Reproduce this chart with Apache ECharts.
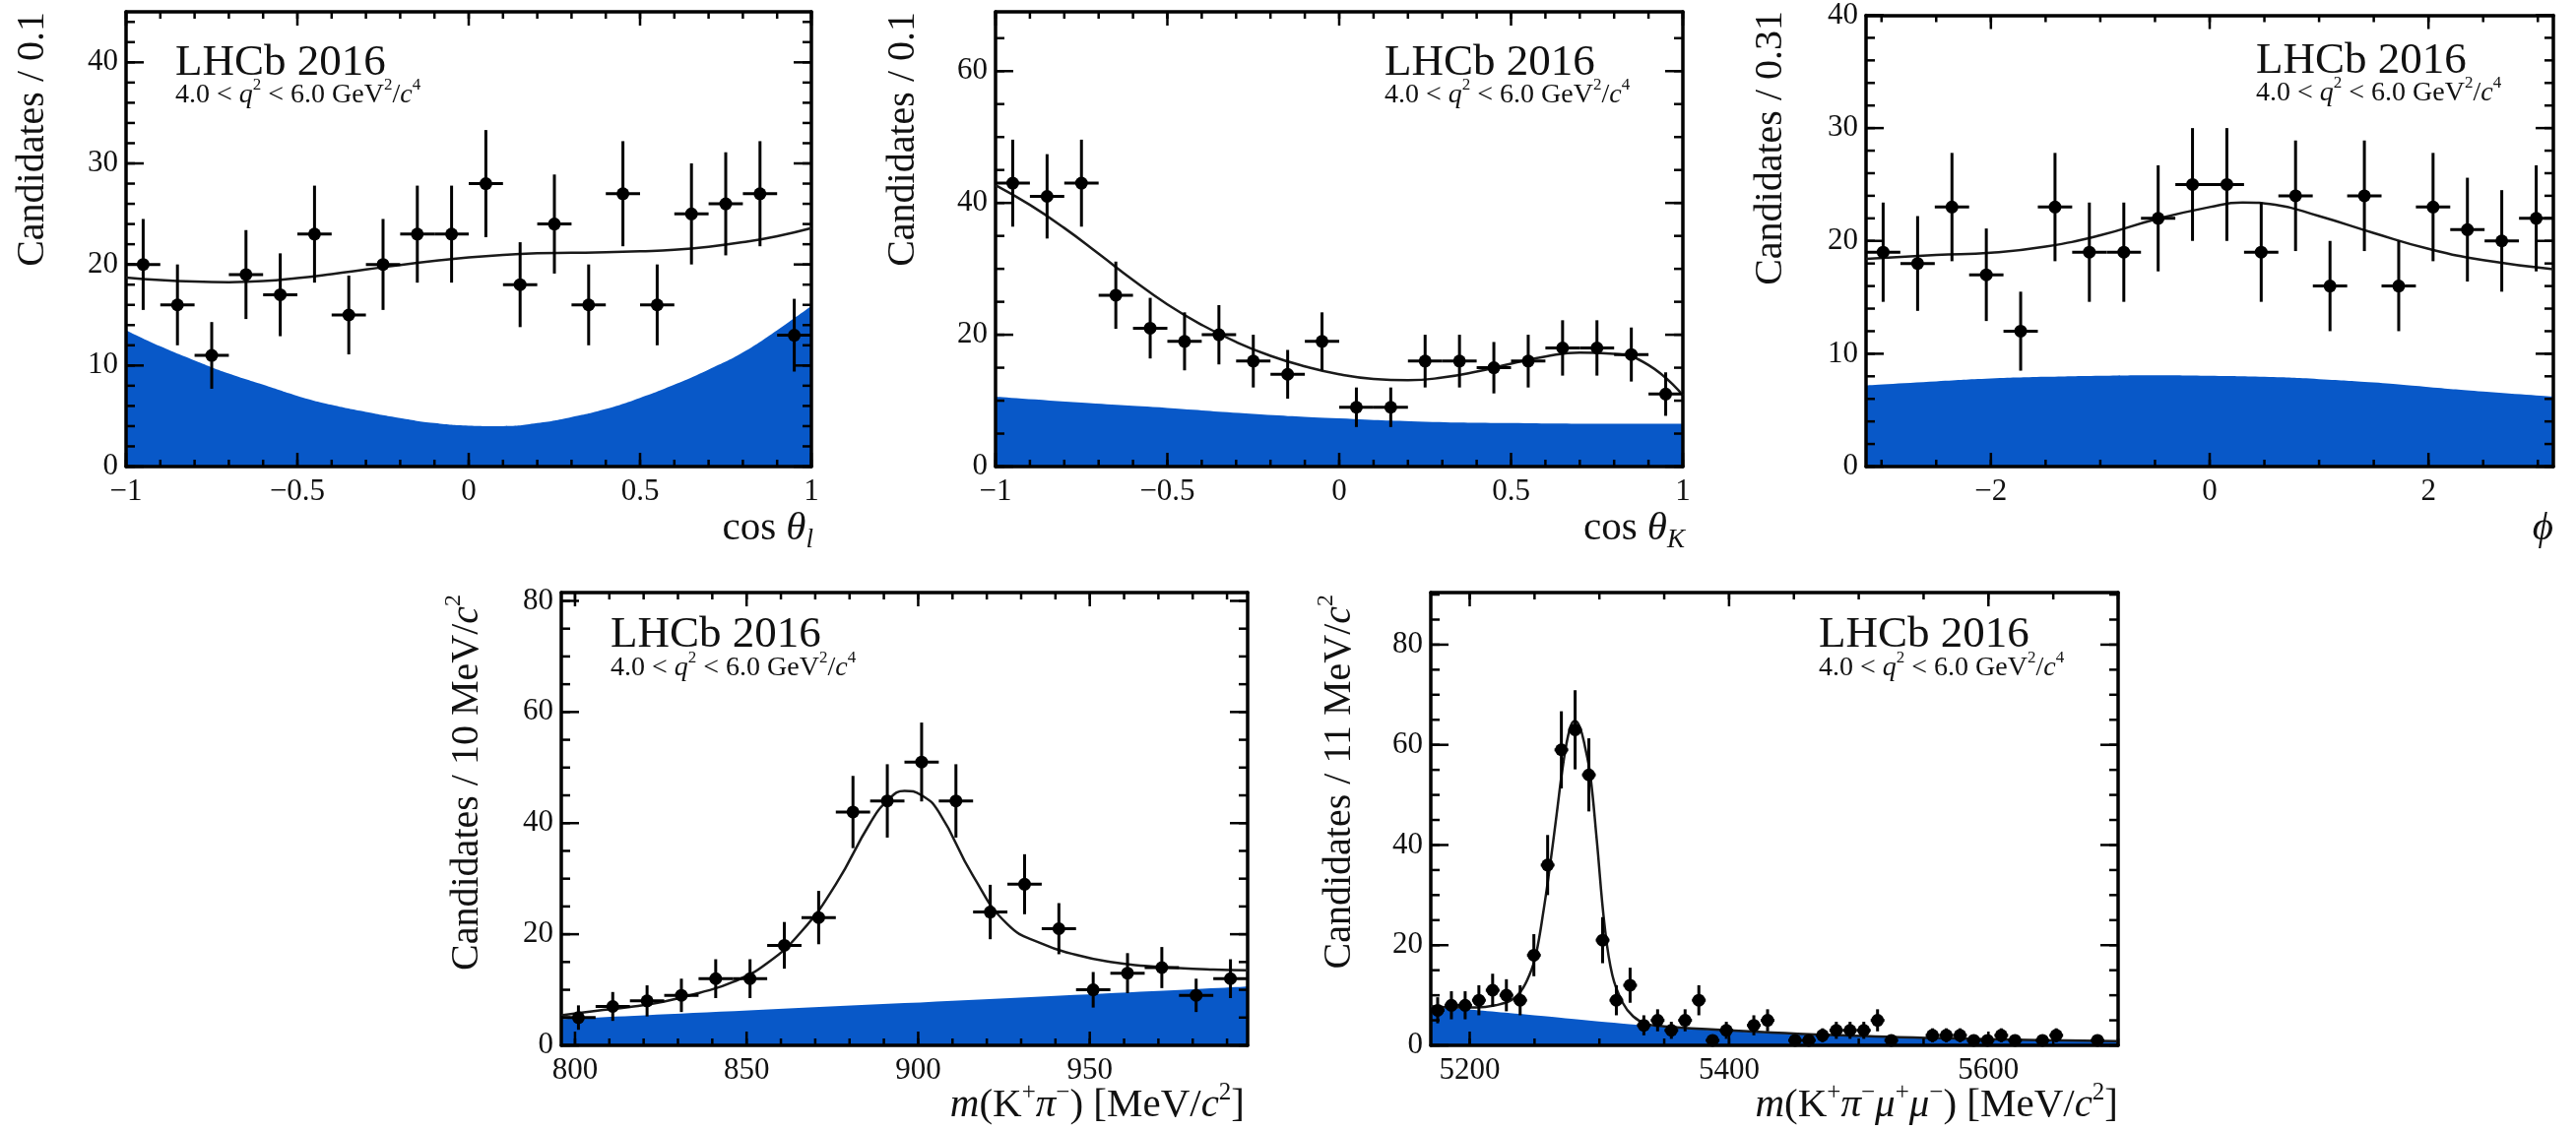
<!DOCTYPE html>
<html><head><meta charset="utf-8">
<script src="https://cdn.jsdelivr.net/npm/echarts@6/dist/echarts.min.js"></script>
<style>html,body{margin:0;padding:0;background:#fff}#c{width:2616px;height:1148px}</style>
</head><body><div id="c"></div>
<script>
// ===== Panel 1: cos(theta_l) =====
const p1Centers = [-0.95,-0.85,-0.75,-0.65,-0.55,-0.45,-0.35,-0.25,-0.15,-0.05,0.05,0.15,0.25,0.35,0.45,0.55,0.65,0.75,0.85,0.95];
const p1Counts  = [20,16,11,19,17,23,15,20,23,23,28,18,24,16,27,16,25,26,27,13];
const p1Errors  = [4.5,4.0,3.3,4.4,4.1,4.8,3.9,4.5,4.8,4.8,5.3,4.2,4.9,4.0,5.2,4.0,5.0,5.1,5.2,3.6];
const p1CurveX  = [-1,-0.9,-0.8,-0.7,-0.6,-0.5,-0.4,-0.3,-0.2,-0.1,0,0.1,0.2,0.3,0.4,0.5,0.6,0.7,0.8,0.9,1];
const p1FitY    = [18.7,18.45,18.3,18.25,18.35,18.65,19.05,19.5,19.95,20.35,20.7,20.95,21.1,21.15,21.2,21.3,21.45,21.75,22.2,22.8,23.6];
const p1BkgY    = [13.5,11.9,10.5,9.2,8.1,7.0,6.1,5.4,4.8,4.3,4.05,4.0,4.3,4.9,5.7,6.8,8.1,9.6,11.3,13.5,15.9];
const p1XTicks  = [-1,-0.5,0,0.5,1];
const p1YTicks  = [0,10,20,30,40];

// ===== Panel 2: cos(theta_K) =====
const p2Centers = [-0.95,-0.85,-0.75,-0.65,-0.55,-0.45,-0.35,-0.25,-0.15,-0.05,0.05,0.15,0.25,0.35,0.45,0.55,0.65,0.75,0.85,0.95];
const p2Counts  = [43,41,43,26,21,19,20,16,14,19,9,9,16,16,15,16,18,18,17,11];
const p2Errors  = [6.6,6.4,6.6,5.1,4.6,4.4,4.5,4.0,3.7,4.4,3.0,3.0,4.0,4.0,3.9,4.0,4.2,4.2,4.1,3.3];
const p2CurveX  = [-1,-0.9,-0.8,-0.7,-0.6,-0.5,-0.4,-0.3,-0.2,-0.1,0,0.1,0.2,0.3,0.4,0.5,0.6,0.7,0.8,0.9,1];
const p2FitY    = [42.7,39.7,36.2,32.3,28.3,24.6,21.5,18.9,16.8,15.2,14.0,13.3,13.1,13.5,14.4,15.6,16.7,17.3,17.1,15.4,10.8];
const p2BkgX    = [-1,-0.75,-0.5,-0.25,0,0.25,0.5,0.75,1];
const p2BkgY    = [10.6,9.7,8.9,8.0,7.3,6.8,6.6,6.5,6.5];
const p2XTicks  = [-1,-0.5,0,0.5,1];
const p2YTicks  = [0,20,40,60];

// ===== Panel 3: phi =====
const p3Centers = [-2.985,-2.670,-2.356,-2.042,-1.728,-1.414,-1.100,-0.785,-0.471,-0.157,0.157,0.471,0.785,1.100,1.414,1.728,2.042,2.356,2.670,2.985];
const p3Counts  = [19,18,23,17,12,23,19,19,22,25,25,19,24,16,24,16,23,21,20,22];
const p3Errors  = [4.4,4.2,4.8,4.1,3.5,4.8,4.4,4.4,4.7,5.0,5.0,4.4,4.9,4.0,4.9,4.0,4.8,4.6,4.5,4.7];
const p3FitX    = [-3.1416,-2.5,-2,-1.5,-1,-0.5,0,0.3,0.6,1,1.5,2,2.5,3.1416];
const p3FitY    = [18.4,18.75,18.95,19.5,20.5,21.9,23.0,23.4,23.2,22.2,20.7,19.3,18.3,17.5];
const p3BkgX    = [-3.1416,-2.5,-2,-1.5,-1,-0.5,0,0.5,1,1.5,2,2.5,3.1416];
const p3BkgY    = [7.2,7.55,7.8,7.95,8.05,8.1,8.05,7.95,7.75,7.45,7.05,6.65,6.2];
const p3XTicks  = [-2,0,2];
const p3YTicks  = [0,10,20,30,40];

// ===== Panel 4: m(K+ pi-) =====
const p4Centers = [801,811,821,831,841,851,861,871,881,891,901,911,921,931,941,951,961,971,981,991];
const p4Counts  = [5,7,8,9,12,12,18,23,42,44,51,44,24,29,21,10,13,14,9,12];
const p4Errors  = [2.2,2.6,2.8,3.0,3.5,3.5,4.2,4.8,6.5,6.6,7.1,6.6,4.9,5.4,4.6,3.2,3.6,3.7,3.0,3.5];
const p4FitX    = [796,806,816,826,836,846,856,866,876,886,891,896,901,906,916,926,936,946,956,966,976,986,996];
const p4FitY    = [5.4,6.2,6.9,7.9,9.4,11.4,14.8,20.5,29,40,44,45.8,45,42,30.5,21.8,18.3,16.3,15.0,14.3,13.9,13.65,13.5];
const p4BkgX    = [796,896,996];
const p4BkgY    = [4.7,7.6,10.6];
const p4XTicks  = [800,850,900,950];
const p4YTicks  = [0,20,40,60,80];

// ===== Panel 5: m(K+ pi- mu+ mu-) =====
const p5Centers = [5175.3,5185.9,5196.5,5207.1,5217.7,5228.3,5238.9,5249.5,5260.1,5270.7,5281.3,5291.9,5302.5,5313.1,5323.7,5334.3,5344.9,5355.5,5366.1,5376.7,5387.3,5397.9,5408.5,5419.1,5429.7,5440.3,5450.9,5461.5,5472.1,5482.7,5493.3,5503.9,5514.5,5525.1,5535.7,5546.3,5556.9,5567.5,5578.1,5588.7,5599.3,5609.9,5620.5,5631.1,5641.7,5652.3,5662.9,5673.5,5684.1,5694.7];
const p5Counts  = [7,8,8,9,11,10,9,18,36,59,63,54,21,9,12,4,5,3,5,9,1,3,0,4,5,0,1,1,2,3,3,3,5,1,0,0,2,2,2,1,1,2,1,0,1,2,0,0,1,0];
const p5Errors  = [2.6,2.8,2.8,3.0,3.3,3.2,3.0,4.2,6.0,7.7,7.9,7.3,4.6,3.0,3.5,2.0,2.2,1.7,2.2,3.0,1.0,1.7,0,2.0,2.2,0,1.0,1.0,1.4,1.7,1.7,1.7,2.2,1.0,0,0,1.4,1.4,1.4,1.0,1.0,1.4,1.0,0,1.0,1.4,0,0,1.0,0];
const p5FitX    = [5170,5190,5205,5220,5232,5240,5246,5251,5257,5262,5267,5272,5277,5281,5285,5289,5293,5298,5304,5310,5318,5326,5336,5350,5400,5480,5560,5640,5700];
const p5FitY    = [7.8,7.55,7.55,8.0,9.0,11,14,18,27,36,46,56,63,64.8,63.5,59.5,54,41,24,14,8.5,5.8,4.3,3.8,3.0,2.05,1.45,1.05,0.85];
const p5BkgX    = [5170,5250,5330,5400,5480,5560,5640,5700];
const p5BkgY    = [7.8,6.0,4.1,2.9,2.0,1.4,1.0,0.8];
const p5XTicks  = [5200,5400,5600];
const p5YTicks  = [0,20,40,60,80];

const FONT = "'Liberation Serif','DejaVu Serif',serif";
const BLUE = '#0858c8';
const INK = '#111';

function steps(a, b, s) { const r = []; for (let v = a; v <= b + 1e-9; v += s) r.push(+v.toFixed(6)); return r; }

const panels = [
  { grid:{left:128, top:12, width:696, height:462}, x:[-1,1], y:[0,45],
    centers:p1Centers, counts:p1Counts, errs:p1Errors, hw:0.05,
    fit:[p1CurveX,p1FitY], bkg:[p1CurveX,p1BkgY], xl:p1XTicks, yl:p1YTicks,
    xMinor:steps(-1,1,0.1), yMinor:steps(0,44,2), smooth:0.5 },
  { grid:{left:1011, top:12, width:698, height:462}, x:[-1,1], y:[0,69],
    centers:p2Centers, counts:p2Counts, errs:p2Errors, hw:0.05,
    fit:[p2CurveX,p2FitY], bkg:[p2BkgX,p2BkgY], xl:p2XTicks, yl:p2YTicks,
    xMinor:steps(-1,1,0.1), yMinor:steps(0,65,5), smooth:0.5 },
  { grid:{left:1895, top:11, width:698, height:463}, x:[-Math.PI,Math.PI], y:[0,40],
    centers:p3Centers, counts:p3Counts, errs:p3Errors, hw:0.157,
    fit:[p3FitX,p3FitY], bkg:[p3BkgX,p3BkgY], xl:p3XTicks, yl:p3YTicks,
    xMinor:steps(-3,3,0.5), yMinor:steps(0,40,2), smooth:0.5 },
  { grid:{left:570, top:602, width:697, height:460}, x:[796,996], y:[0,81.5],
    centers:p4Centers, counts:p4Counts, errs:p4Errors, hw:5,
    fit:[p4FitX,p4FitY], bkg:[p4BkgX,p4BkgY], xl:p4XTicks, yl:p4YTicks,
    xMinor:steps(800,990,10), yMinor:steps(0,80,5), smooth:0.5 },
  { grid:{left:1453, top:602, width:698, height:460}, x:[5170,5700], y:[0,90.4],
    centers:p5Centers, counts:p5Counts, errs:p5Errors, hw:5.3,
    fit:[p5FitX,p5FitY], bkg:[p5BkgX,p5BkgY], xl:p5XTicks, yl:p5YTicks,
    xMinor:steps(5200,5700,50), yMinor:steps(0,90,5), smooth:0.4 }
];

const fmt = v => String(v).replace('-', '\u2212');

const option = { animation:false, backgroundColor:'#fff', grid:[], xAxis:[], yAxis:[], series:[], graphic:[] };

panels.forEach((P, i) => {
  option.grid.push(Object.assign({containLabel:false}, P.grid));
  const line = {show:true, onZero:false, lineStyle:{color:'#000', width:3.5}};
  const lab = {fontFamily:FONT, fontSize:31, color:INK};
  option.xAxis.push({gridIndex:i, type:'value', min:P.x[0], max:P.x[1], position:'bottom', z:10,
    axisLine:line, axisTick:{show:false}, splitLine:{show:false},
    axisLabel:Object.assign({customValues:P.xl, formatter:fmt, margin:10}, lab)});
  option.xAxis.push({gridIndex:i, type:'value', min:P.x[0], max:P.x[1], position:'top', z:10,
    axisLine:line, axisTick:{show:false}, splitLine:{show:false}, axisLabel:{show:false}});
  option.yAxis.push({gridIndex:i, type:'value', min:P.y[0], max:P.y[1], position:'left', z:10,
    axisLine:line, axisTick:{show:false}, splitLine:{show:false},
    axisLabel:Object.assign({customValues:P.yl, formatter:fmt, margin:8}, lab)});
  option.yAxis.push({gridIndex:i, type:'value', min:P.y[0], max:P.y[1], position:'right', z:10,
    axisLine:line, axisTick:{show:false}, splitLine:{show:false}, axisLabel:{show:false}});

  const xi = 2*i, yi = 2*i;
  // background component (blue filled area)
  option.series.push({type:'line', xAxisIndex:xi, yAxisIndex:yi, z:3, silent:true,
    data:P.bkg[0].map((x,k)=>[x,P.bkg[1][k]]), smooth:0.5, showSymbol:false,
    lineStyle:{width:0}, areaStyle:{color:BLUE, opacity:1, origin:'start'}});
  // total fit
  option.series.push({type:'line', xAxisIndex:xi, yAxisIndex:yi, z:12, silent:true,
    data:P.fit[0].map((x,k)=>[x,P.fit[1][k]]), smooth:P.smooth, showSymbol:false,
    lineStyle:{color:'#1a1a1a', width:2.5}});
  // data points with error bars
  const pts = P.centers.map((c,k)=>[c, P.counts[k], P.errs[k], P.hw]).filter(d=>d[1] > 0);
  option.series.push({type:'custom', xAxisIndex:xi, yAxisIndex:yi, z:14, silent:true, clip:false,
    data:pts, encode:{x:0, y:1},
    renderItem(params, api) {
      const x = api.value(0), y = api.value(1), e = api.value(2), h = api.value(3);
      const c = api.coord([x,y]), t = api.coord([x,y+e]), b = api.coord([x,Math.max(0,y-e)]);
      const l = api.coord([x-h,y]), r = api.coord([x+h,y]);
      const st = {stroke:'#000', lineWidth:3};
      return {type:'group', children:[
        {type:'line', shape:{x1:c[0], y1:t[1], x2:c[0], y2:b[1]}, style:st},
        {type:'line', shape:{x1:l[0], y1:c[1], x2:r[0], y2:c[1]}, style:st},
        {type:'circle', shape:{cx:c[0], cy:c[1], r:6.5}, style:{fill:'#000'}}
      ]};
    }});
  // ROOT-style ticks on all four sides
  option.series.push({type:'custom', xAxisIndex:xi, yAxisIndex:yi, z:16, silent:true, clip:false,
    data:[[P.x[0], P.y[0]]], encode:{x:0, y:1},
    renderItem(params, api) {
      const ch = [], st = {stroke:'#000', lineWidth:2.5};
      const addX = (v, len) => { const b = api.coord([v,P.y[0]]), t = api.coord([v,P.y[1]]);
        ch.push({type:'line', shape:{x1:b[0], y1:b[1], x2:b[0], y2:b[1]-len}, style:st});
        ch.push({type:'line', shape:{x1:t[0], y1:t[1], x2:t[0], y2:t[1]+len}, style:st}); };
      const addY = (v, len) => { const l = api.coord([P.x[0],v]), r = api.coord([P.x[1],v]);
        ch.push({type:'line', shape:{x1:l[0], y1:l[1], x2:l[0]+len, y2:l[1]}, style:st});
        ch.push({type:'line', shape:{x1:r[0], y1:r[1], x2:r[0]-len, y2:r[1]}, style:st}); };
      P.xMinor.forEach(v => addX(v, 7));
      P.xl.forEach(v => addX(v, 14));
      P.yMinor.forEach(v => addY(v, 9));
      P.yl.forEach(v => addY(v, 18));
      return {type:'group', children:ch};
    }});
});

// ---- text ----
const base = (fs) => ({fontFamily:FONT, fontSize:fs, lineHeight:fs+10, verticalAlign:'middle', fill:INK});
const ital = (fs) => Object.assign(base(fs), {fontStyle:'italic'});
function richStyle(fs) {
  const sfs = Math.round(fs*0.6);
  return {
    n: base(fs), i: ital(fs),
    s: {fontFamily:FONT, fontSize:sfs, lineHeight:sfs, verticalAlign:'top', fill:INK},
    b: {fontFamily:FONT, fontSize:Math.round(fs*0.66), lineHeight:Math.round(fs*0.66), verticalAlign:'bottom', fontStyle:'italic', fill:INK}
  };
}
function addText(x, y, text, fs, align, rot) {
  option.graphic.push({type:'text', x:x, y:y, rotation:rot||0, z:30, silent:true,
    style:{text:text, rich:richStyle(fs), fontFamily:FONT, fontSize:fs, fill:INK,
      align:align, textAlign:align, verticalAlign:'middle', textVerticalAlign:'middle'}});
}

const lhcbLabel = 'LHCb 2016';
const qLabel = '{n|4.0 < }{i|q}{s|2}{n| < 6.0 GeV}{s|2}{n|/}{i|c}{s|4}';
const lhcbPos = [[178,64,97],[1406,64,97],[2291,62,95],[620,645,679],[1847,645,679]];
lhcbPos.forEach(p => { addText(p[0], p[1], '{n|' + lhcbLabel + '}', 45, 'left'); addText(p[0], p[2], qLabel, 28, 'left'); });

const yTitles = [
  [33, 12, '{n|Candidates / 0.1}'],
  [917, 12, '{n|Candidates / 0.1}'],
  [1798, 11, '{n|Candidates / 0.31}'],
  [474, 604, '{n|Candidates / 10 MeV/}{i|c}{s|2}'],
  [1360, 604, '{n|Candidates / 11 MeV/}{i|c}{s|2}']
];
yTitles.forEach(t => addText(t[0], t[1], t[2], 40, 'right', Math.PI/2));

const xTitles = [
  [826, 537, '{n|cos }{i|\u03b8}{b|l}'],
  [1711, 537, '{n|cos }{i|\u03b8}{b|K}'],
  [2593, 537, '{i|\u03d5}'],
  [1264, 1123, '{i|m}{n|(K}{s|+}{i|\u03c0}{s|\u2212}{n|) [MeV/}{i|c}{s|2}{n|]}'],
  [2151, 1123, '{i|m}{n|(K}{s|+}{i|\u03c0}{s|\u2212}{i|\u03bc}{s|+}{i|\u03bc}{s|\u2212}{n|) [MeV/}{i|c}{s|2}{n|]}']
];
xTitles.forEach(t => addText(t[0], t[1], t[2], 41, 'right', 0));

const chart = echarts.init(document.getElementById('c'), null, {renderer:'canvas'});
chart.setOption(option);
</script>
</body></html>
